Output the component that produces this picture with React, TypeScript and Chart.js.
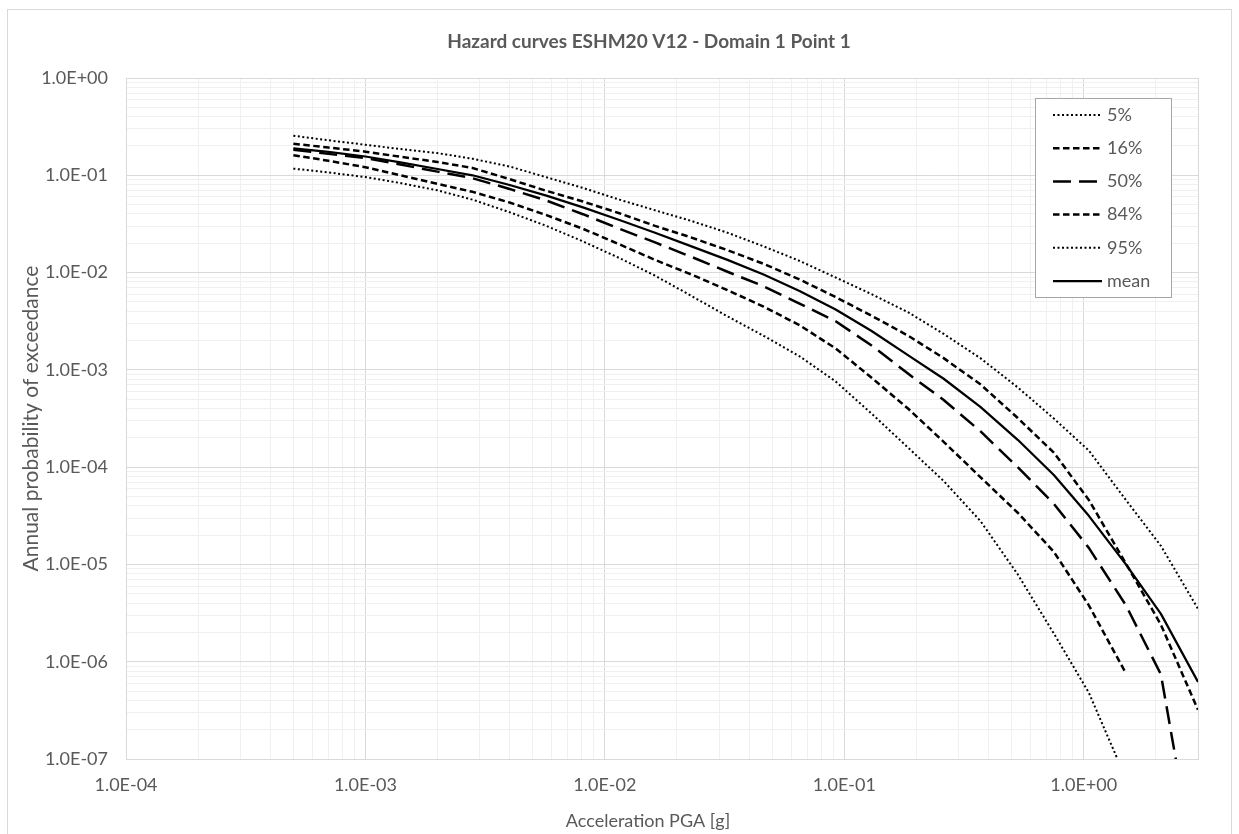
import React, { useEffect, useRef } from 'react';
import { Chart, registerables } from 'chart.js';

Chart.register(...registerables);

// Acceleration PGA [g] (x values)
const PGA = [0.0005, 0.0007, 0.001, 0.0014, 0.002, 0.0028, 0.004, 0.0057, 0.0081, 0.0115, 0.0162, 0.023, 0.0325, 0.046, 0.065, 0.092, 0.13, 0.185, 0.26, 0.37, 0.53, 0.75, 1.05, 1.5, 2.1, 3.0];

// Annual probability of exceedance per fractile
const P05 = [0.117, 0.107, 0.0958, 0.0832, 0.070, 0.0562, 0.0417, 0.0302, 0.0209, 0.0141, 0.0093, 0.00575, 0.00355, 0.00224, 0.00138, 0.00076, 0.000355, 0.000158, 7.2e-5, 2.8e-5, 7.9e-6, 1.95e-6, 4.8e-7, 6.3e-8];
const P16 = [0.161, 0.141, 0.121, 0.100, 0.0817, 0.0676, 0.0525, 0.0389, 0.0282, 0.0195, 0.0135, 0.00955, 0.0066, 0.00447, 0.00288, 0.00166, 0.00083, 0.000398, 0.000182, 7.9e-5, 3.4e-5, 1.35e-5, 3.8e-6, 7.6e-7];
const P50 = [0.183, 0.166, 0.150, 0.129, 0.109, 0.0933, 0.0724, 0.0550, 0.0398, 0.0282, 0.0204, 0.0145, 0.0102, 0.00724, 0.00479, 0.00316, 0.00178, 0.00091, 0.00049, 0.000234, 0.0001, 4.2e-5, 1.48e-5, 3.8e-6, 7.4e-7, 5e-9];
const P84 = [0.211, 0.193, 0.175, 0.155, 0.137, 0.119, 0.0912, 0.0692, 0.0537, 0.0407, 0.0302, 0.0229, 0.0170, 0.0123, 0.0085, 0.0056, 0.0036, 0.00224, 0.00132, 0.00071, 0.00032, 0.000141, 4.6e-5, 1.02e-5, 2.4e-6, 3.2e-7];
const P95 = [0.255, 0.229, 0.206, 0.186, 0.169, 0.148, 0.123, 0.0955, 0.0741, 0.0562, 0.0437, 0.0339, 0.0257, 0.0186, 0.0132, 0.0089, 0.0060, 0.0039, 0.00234, 0.00132, 0.00066, 0.000316, 0.000148, 4.6e-5, 1.55e-5, 3.5e-6];
const MEAN = [0.189, 0.174, 0.156, 0.136, 0.116, 0.100, 0.0794, 0.0617, 0.0468, 0.0347, 0.0257, 0.0186, 0.0135, 0.00955, 0.00646, 0.00417, 0.00251, 0.00141, 0.00081, 0.000417, 0.000191, 8.3e-5, 3.16e-5, 1.0e-5, 3.1e-6, 6.2e-7];

const SERIES_LABELS = ['5%', '16%', '50%', '84%', '95%', 'mean'];
const SERIES_VALUES = [P05, P16, P50, P84, P95, MEAN];

// Axis tick labels
const X_MAJOR = [1e-4, 1e-3, 1e-2, 1e-1, 1];
const X_LABELS = ['1.0E-04', '1.0E-03', '1.0E-02', '1.0E-01', '1.0E+00'];
const Y_MAJOR = [1, 1e-1, 1e-2, 1e-3, 1e-4, 1e-5, 1e-6, 1e-7];
const Y_LABELS = ['1.0E+00', '1.0E-01', '1.0E-02', '1.0E-03', '1.0E-04', '1.0E-05', '1.0E-06', '1.0E-07'];

const TITLE = 'Hazard curves ESHM20 V12 - Domain 1 Point 1';
const X_TITLE = 'Acceleration PGA [g]';
const Y_TITLE = 'Annual probability of exceedance';

const STYLES = [
  { borderDash: [2, 2.5], borderWidth: 2 },
  { borderDash: [6.5, 3.5], borderWidth: 2.5 },
  { borderDash: [18, 8], borderWidth: 2.5 },
  { borderDash: [6.5, 3.5], borderWidth: 2.5 },
  { borderDash: [2, 2.5], borderWidth: 2 },
  { borderDash: [], borderWidth: 2.25 },
];

const TEXT_COLOR = '#595959';
const MAJOR_GRID = '#d9d9d9';
const MINOR_GRID = '#f0f0f0';
const FONT = 'Lato';

function logGrid(min: number, max: number) {
  const out: number[] = [];
  const e0 = Math.floor(Math.log10(min));
  const e1 = Math.ceil(Math.log10(max));
  for (let e = e0; e <= e1; e++) {
    for (let m = 1; m <= 9; m++) {
      const v = m * Math.pow(10, e);
      if (v >= min * (1 - 1e-9) && v <= max * (1 + 1e-9)) out.push(v);
    }
  }
  return out;
}

function majorIndex(list: number[], v: number) {
  return list.findIndex((m) => Math.abs(m - v) / m < 1e-6);
}

const decorPlugin = {
  id: 'decor',
  beforeDraw(chart: any) {
    const { ctx } = chart;
    ctx.save();
    ctx.fillStyle = '#ffffff';
    ctx.fillRect(0, 0, chart.width, chart.height);
    ctx.strokeStyle = MAJOR_GRID;
    ctx.lineWidth = 1;
    ctx.strokeRect(7.5, 9.5, 1224, 900);
    ctx.restore();
  },
  beforeDatasetsDraw(chart: any) {
    const { ctx, chartArea: a } = chart;
    ctx.save();
    ctx.strokeStyle = MAJOR_GRID;
    ctx.lineWidth = 1;
    ctx.strokeRect(Math.round(a.left) + 0.5, Math.round(a.top) + 0.5, Math.round(a.right - a.left), Math.round(a.bottom - a.top));
    ctx.restore();
  },
  afterDraw(chart: any) {
    const { ctx } = chart;
    ctx.save();
    // chart title
    ctx.fillStyle = TEXT_COLOR;
    ctx.font = `bold 19px ${FONT}`;
    ctx.textAlign = 'center';
    ctx.textBaseline = 'middle';
    ctx.fillText(TITLE, 649, 42);
    // axis titles
    ctx.font = `18px ${FONT}`;
    ctx.fillText(X_TITLE, 648, 821);
    ctx.save();
    ctx.translate(31, 418.5);
    ctx.rotate(-Math.PI / 2);
    ctx.font = `21px ${FONT}`;
    ctx.fillText(Y_TITLE, 0, 0);
    ctx.restore();
    // legend
    const lx = 1035.5, ly = 98.5, lw = 136, lh = 199;
    ctx.fillStyle = '#ffffff';
    ctx.fillRect(lx, ly, lw, lh);
    ctx.strokeStyle = '#a6a6a6';
    ctx.lineWidth = 1;
    ctx.setLineDash([]);
    ctx.strokeRect(lx, ly, lw, lh);
    chart.data.datasets.forEach((ds: any, i: number) => {
      const y = 115 + i * 33.2;
      ctx.setLineDash(ds.borderDash || []);
      ctx.lineWidth = ds.borderWidth;
      ctx.strokeStyle = ds.borderColor;
      ctx.beginPath();
      ctx.moveTo(1053, y);
      ctx.lineTo(1102, y);
      ctx.stroke();
      ctx.setLineDash([]);
      ctx.fillStyle = TEXT_COLOR;
      ctx.font = `18px ${FONT}`;
      ctx.textAlign = 'left';
      ctx.textBaseline = 'middle';
      ctx.fillText(ds.label, 1107, y);
    });
    ctx.restore();
  },
};

export default function App() {
  const ref = useRef<HTMLCanvasElement>(null);
  useEffect(() => {
    const datasets = SERIES_LABELS.map((label, i) => ({
      label,
      data: SERIES_VALUES[i].map((v, j) => ({ x: PGA[j], y: v })),
      showLine: true,
      borderColor: '#000000',
      backgroundColor: '#000000',
      borderWidth: STYLES[i].borderWidth,
      borderDash: STYLES[i].borderDash,
      borderCapStyle: 'butt',
      borderJoinStyle: 'round',
      pointRadius: 0,
      pointHoverRadius: 0,
      tension: 0,
      fill: false,
    }));
    const chart = new Chart(ref.current as HTMLCanvasElement, {
      type: 'scatter',
      data: { datasets } as any,
      options: {
        animation: false,
        responsive: false,
        devicePixelRatio: 1,
        events: [],
        layout: { padding: { top: 78, right: 41, left: 0, bottom: 0 } },
        plugins: {
          legend: { display: false },
          tooltip: { enabled: false },
          title: { display: false },
        },
        scales: {
          x: {
            type: 'logarithmic',
            position: 'bottom',
            min: 1e-4,
            max: 3,
            afterBuildTicks: (s: any) => {
              s.ticks = logGrid(1e-4, 3).map((v) => ({ value: v, major: majorIndex(X_MAJOR, v) >= 0 }));
            },
            afterFit: (s: any) => {
              s.height = 75;
            },
            grid: {
              drawTicks: false,
              color: (c: any) => (c.tick && majorIndex(X_MAJOR, c.tick.value) >= 0 ? MAJOR_GRID : MINOR_GRID),
              lineWidth: 1,
            },
            border: { display: true, color: MAJOR_GRID },
            ticks: {
              autoSkip: false,
              maxRotation: 0,
              minRotation: 0,
              padding: 15,
              color: TEXT_COLOR,
              font: { family: FONT, size: 18 },
              callback: (v: any) => {
                const i = majorIndex(X_MAJOR, Number(v));
                return i >= 0 ? X_LABELS[i] : '';
              },
            },
          },
          y: {
            type: 'logarithmic',
            position: 'left',
            min: 1e-7,
            max: 1,
            afterBuildTicks: (s: any) => {
              s.ticks = logGrid(1e-7, 1).map((v) => ({ value: v, major: majorIndex(Y_MAJOR, v) >= 0 }));
            },
            afterFit: (s: any) => {
              s.width = 126;
            },
            grid: {
              drawTicks: false,
              color: (c: any) => (c.tick && majorIndex(Y_MAJOR, c.tick.value) >= 0 ? MAJOR_GRID : MINOR_GRID),
              lineWidth: 1,
            },
            border: { display: true, color: MAJOR_GRID },
            ticks: {
              autoSkip: false,
              padding: 18,
              color: TEXT_COLOR,
              font: { family: FONT, size: 18 },
              callback: (v: any) => {
                const i = majorIndex(Y_MAJOR, Number(v));
                return i >= 0 ? Y_LABELS[i] : '';
              },
            },
          },
        },
      } as any,
      plugins: [decorPlugin as any],
    });
    return () => chart.destroy();
  }, []);
  return (
    <div style={{ position: 'absolute', left: 0, top: 0, width: 1239, height: 834, background: '#ffffff' }}>
      <canvas ref={ref} width={1239} height={834} style={{ display: 'block', width: 1239, height: 834 }} />
    </div>
  );
}
